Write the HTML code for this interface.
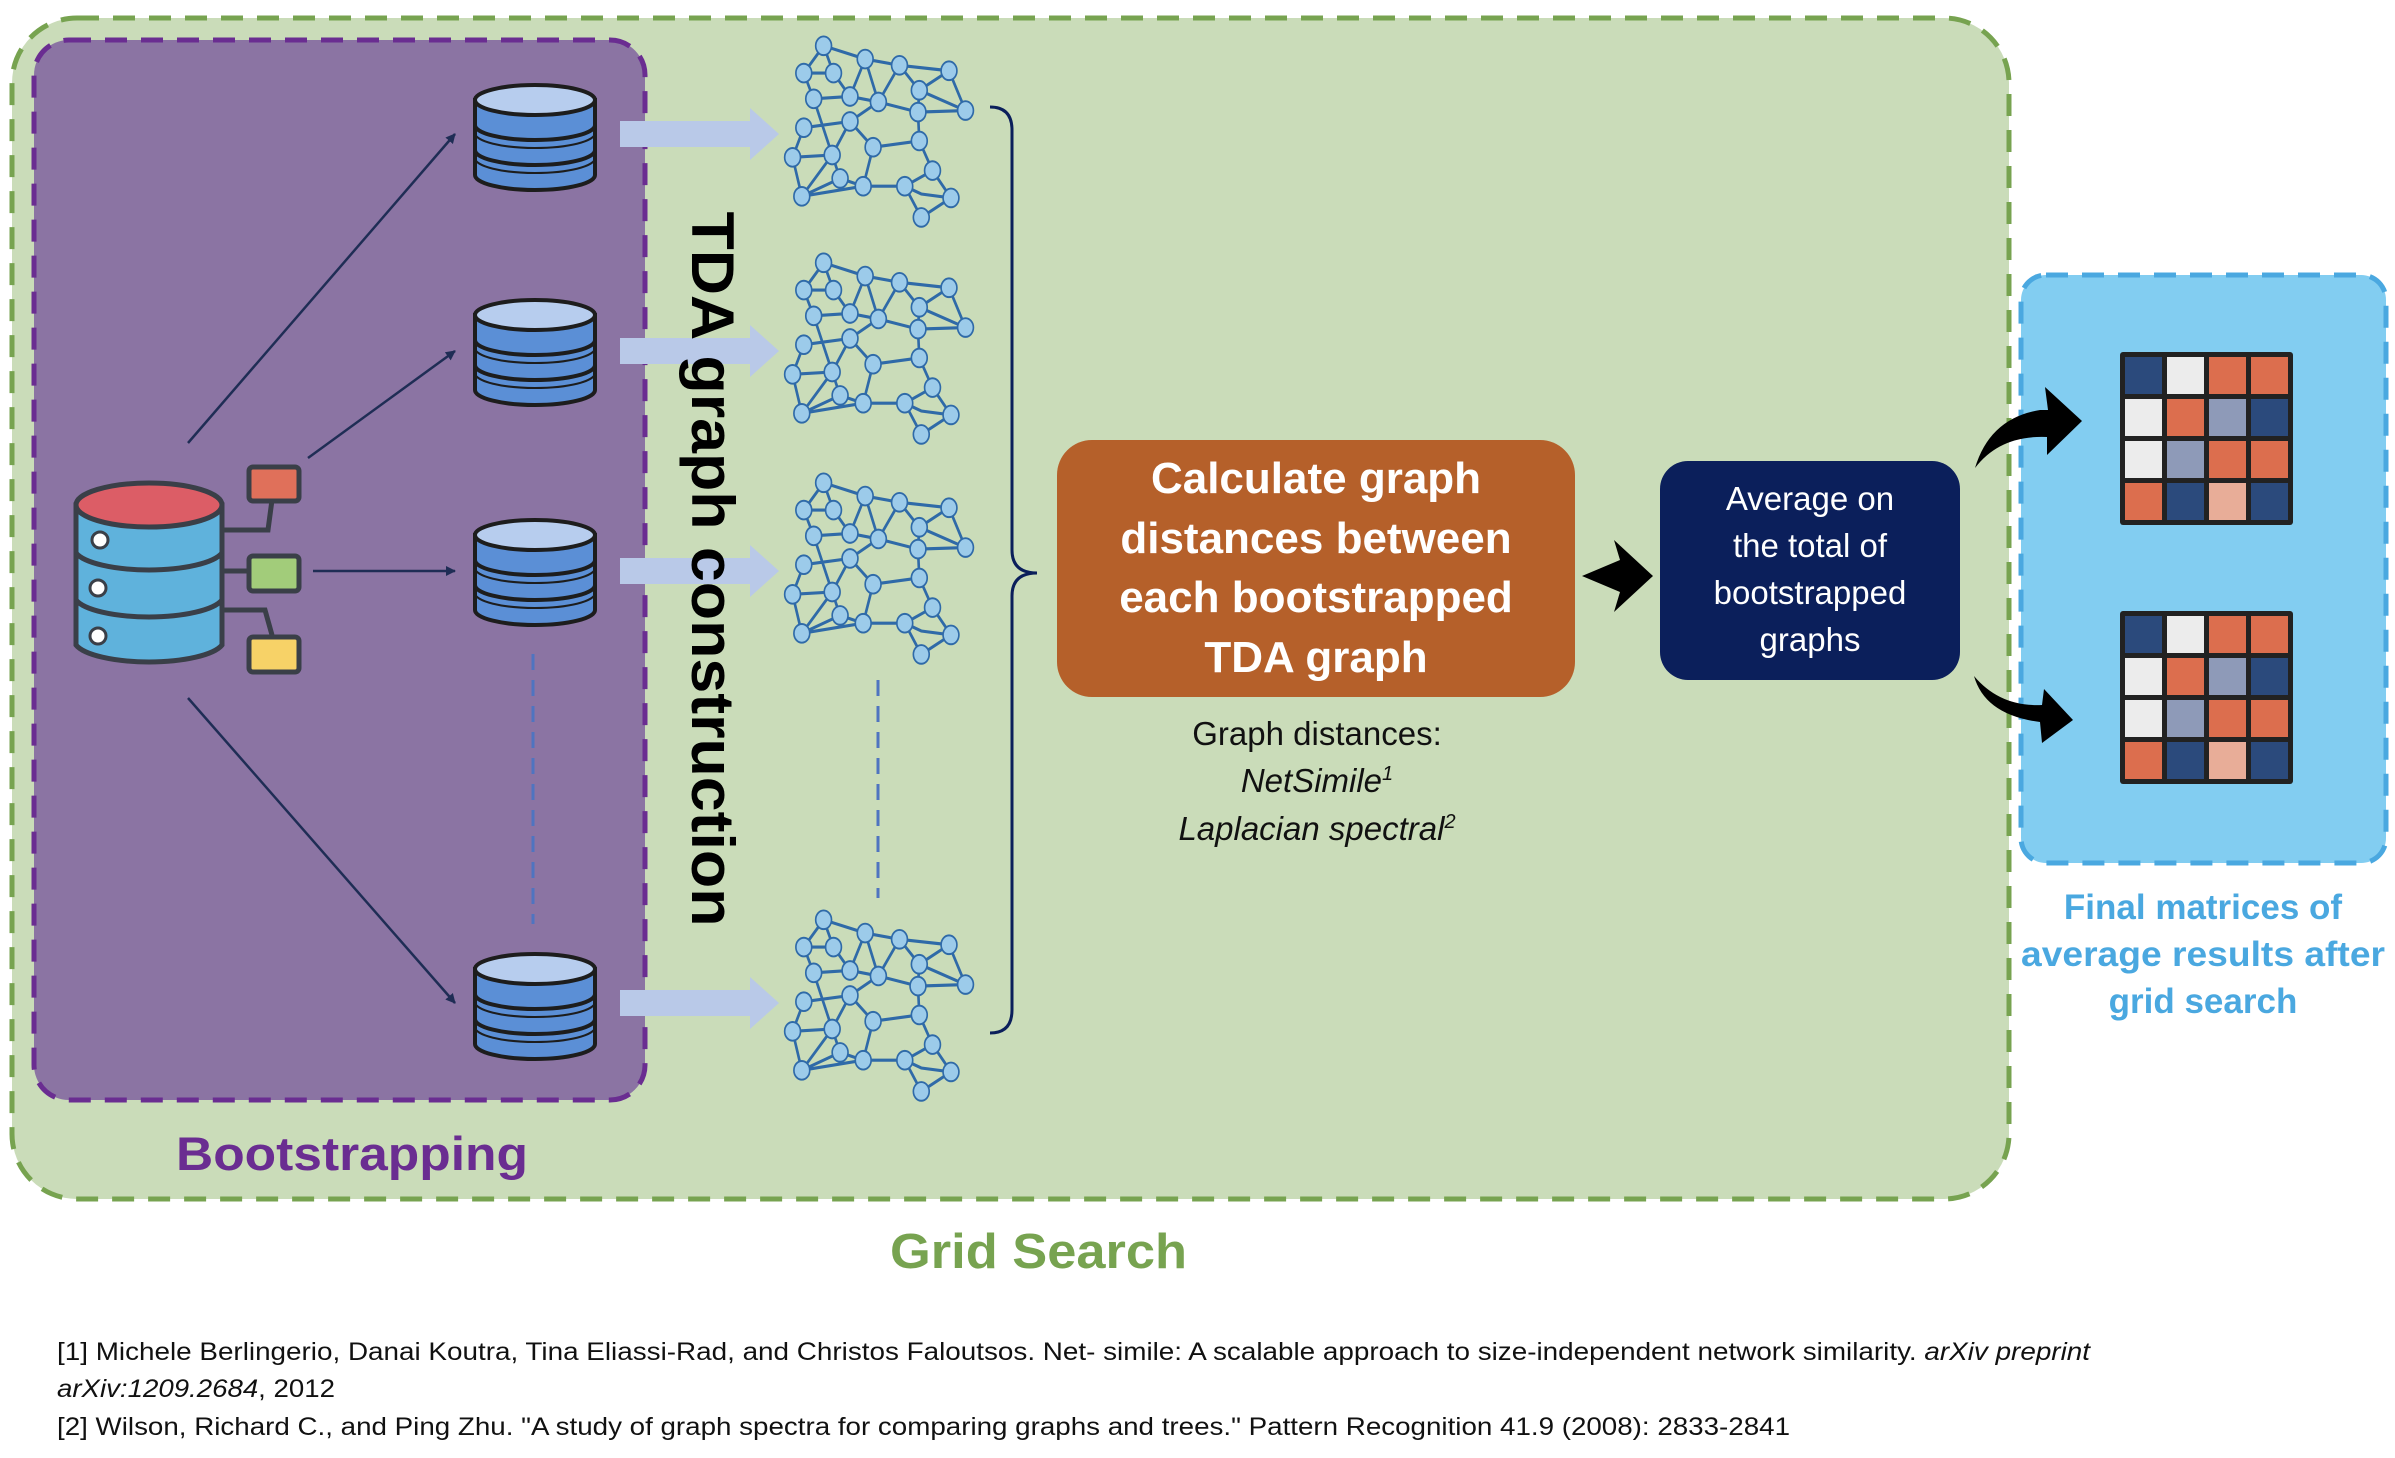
<!DOCTYPE html>
<html><head><meta charset="utf-8"><style>
html,body{margin:0;padding:0;background:#fff;}
svg{display:block;}
text{font-family:"Liberation Sans","DejaVu Sans",sans-serif;}
</style></head><body>
<svg width="2395" height="1458" viewBox="0 0 2395 1458" xmlns="http://www.w3.org/2000/svg">
<defs>
<marker id="ah" markerWidth="10" markerHeight="10" refX="9" refY="5" orient="auto" markerUnits="userSpaceOnUse"><path d="M0,0 L10,5 L0,10 Z" fill="#1f2d55"/></marker>
<g id="net">
 <g stroke="#2f6aa8" stroke-width="4" fill="none">
 <path d="M60,10 L30,45 L75,45 L60,10 L123,27 L175,35 L250,42 L205,67 L175,35 M123,27 L100,75 L75,45 M205,67 L275,93 L250,42 M205,67 L203,95 L275,93 M45,78 L100,75 L143,82 L203,95 L205,132 M30,115 L100,107 L135,140 L205,132 L225,170 L253,205 L208,200 L183,190 L225,170 M30,115 L13,153 L73,150 L100,107 M13,153 L27,203 L73,150 L85,180 L120,190 L135,140 M27,203 L85,180 M27,203 L120,190 L183,190 M253,205 L208,230 L183,190 M73,150 L45,78 L30,45 M143,82 L100,107 M123,27 L143,82 M175,35 L143,82"/>
 </g>
 <g fill="#9ccbea" stroke="#2f6aa8" stroke-width="2.5">
 <circle cx="60" cy="10" r="12"/><circle cx="30" cy="45" r="12"/><circle cx="75" cy="45" r="12"/><circle cx="123" cy="27" r="12"/><circle cx="175" cy="35" r="12"/><circle cx="250" cy="42" r="12"/><circle cx="205" cy="67" r="12"/><circle cx="275" cy="93" r="12"/><circle cx="45" cy="78" r="12"/><circle cx="100" cy="75" r="12"/><circle cx="143" cy="82" r="12"/><circle cx="203" cy="95" r="12"/><circle cx="30" cy="115" r="12"/><circle cx="100" cy="107" r="12"/><circle cx="135" cy="140" r="12"/><circle cx="205" cy="132" r="12"/><circle cx="13" cy="153" r="12"/><circle cx="73" cy="150" r="12"/><circle cx="225" cy="170" r="12"/><circle cx="27" cy="203" r="12"/><circle cx="120" cy="190" r="12"/><circle cx="183" cy="190" r="12"/><circle cx="253" cy="205" r="12"/><circle cx="208" cy="230" r="12"/><circle cx="85" cy="180" r="12"/>
 </g>
</g>
<g id="db">
 <path d="M0,20 L0,95 A60,15 0 0 0 120,95 L120,20 Z" fill="#5b8fd6" stroke="#1d1d1d" stroke-width="4"/>
 <ellipse cx="60" cy="20" rx="60" ry="15" fill="#b7cdee" stroke="#1d1d1d" stroke-width="4"/>
 <path d="M0,45 A60,15 0 0 0 120,45 M0,70 A60,15 0 0 0 120,70" fill="none" stroke="#1d1d1d" stroke-width="4"/>
 <path d="M0,53 A60,15 0 0 0 120,53 M0,78 A60,15 0 0 0 120,78" fill="none" stroke="#1d1d1d" stroke-width="2"/>
</g>
<g id="mat">
 <rect x="0" y="0" width="173" height="173" fill="#222" rx="3"/>
 <g transform="translate(5,5)">
 <rect x="0" y="0" width="37" height="37" fill="#2b4a7c"/><rect x="42" y="0" width="37" height="37" fill="#ececec"/><rect x="84" y="0" width="37" height="37" fill="#dc6e4e"/><rect x="126" y="0" width="37" height="37" fill="#dc6e4e"/>
 <rect x="0" y="42" width="37" height="37" fill="#ececec"/><rect x="42" y="42" width="37" height="37" fill="#dc6e4e"/><rect x="84" y="42" width="37" height="37" fill="#8e9ab8"/><rect x="126" y="42" width="37" height="37" fill="#2b4a7c"/>
 <rect x="0" y="84" width="37" height="37" fill="#ececec"/><rect x="42" y="84" width="37" height="37" fill="#8e9ab8"/><rect x="84" y="84" width="37" height="37" fill="#dc6e4e"/><rect x="126" y="84" width="37" height="37" fill="#dc6e4e"/>
 <rect x="0" y="126" width="37" height="37" fill="#dc6e4e"/><rect x="42" y="126" width="37" height="37" fill="#2b4a7c"/><rect x="84" y="126" width="37" height="37" fill="#e8ad98"/><rect x="126" y="126" width="37" height="37" fill="#2b4a7c"/>
 </g>
</g>
</defs>

<rect x="12" y="18" width="1997" height="1181" rx="65" fill="#cadcb9" stroke="#77a350" stroke-width="5" stroke-dasharray="22,14"/>
<rect x="2021" y="275" width="365" height="588" rx="25" fill="#82cdf1" stroke="#4aa8e0" stroke-width="5" stroke-dasharray="22,14"/>
<rect x="34" y="40" width="611" height="1060" rx="35" fill="#8b74a3" stroke="#6a2d91" stroke-width="5" stroke-dasharray="22,14"/>

<g stroke="#1f2d55" stroke-width="2.5" marker-end="url(#ah)">
<line x1="188" y1="443" x2="455" y2="134"/>
<line x1="308" y1="458" x2="455" y2="351"/>
<line x1="313" y1="571" x2="455" y2="571"/>
<line x1="188" y1="698" x2="455" y2="1003"/>
</g>
<line x1="533" y1="654" x2="533" y2="924" stroke="#4f74c0" stroke-width="3" stroke-dasharray="16,10"/>
<line x1="878" y1="680" x2="878" y2="898" stroke="#4f74c0" stroke-width="3" stroke-dasharray="16,10"/>

<g>
<path d="M76,505 L76,645 A75,22 0 0 0 222,645 L222,505 Z" fill="#5fb2dc" stroke="#3a3f48" stroke-width="5"/>
<path d="M76,553 A75,22 0 0 0 222,553 M76,600 A75,22 0 0 0 222,600" fill="none" stroke="#3a3f48" stroke-width="5"/>
<ellipse cx="149" cy="505" rx="73" ry="22" fill="#dc5d66" stroke="#3a3f48" stroke-width="5"/>
<circle cx="100" cy="540" r="8" fill="#fff" stroke="#3a3f48" stroke-width="3"/>
<circle cx="98" cy="588" r="8" fill="#fff" stroke="#3a3f48" stroke-width="3"/>
<circle cx="98" cy="636" r="8" fill="#fff" stroke="#3a3f48" stroke-width="3"/>
<path d="M222,530 L268,530 L272,500 M222,571 L250,571 M222,610 L265,610 L272,635" fill="none" stroke="#3a3f48" stroke-width="5"/>
<rect x="249" y="467" width="50" height="34" rx="4" fill="#e0705a" stroke="#3a3f48" stroke-width="5"/>
<rect x="249" y="556" width="50" height="35" rx="4" fill="#a2cc7a" stroke="#3a3f48" stroke-width="5"/>
<rect x="249" y="637" width="50" height="35" rx="4" fill="#f7d267" stroke="#3a3f48" stroke-width="5"/>
</g>

<use href="#db" x="475" y="80"/>
<use href="#db" x="475" y="295"/>
<use href="#db" x="475" y="515"/>
<use href="#db" x="475" y="949"/>

<g fill="#b9c9e8">
<path d="M620,121 L750,121 L750,108 L779,134 L750,160 L750,147 L620,147 Z"/>
<path d="M620,338 L750,338 L750,325 L779,351 L750,377 L750,364 L620,364 Z"/>
<path d="M620,558 L750,558 L750,545 L779,571 L750,597 L750,584 L620,584 Z"/>
<path d="M620,990 L750,990 L750,977 L779,1003 L750,1029 L750,1016 L620,1016 Z"/>
</g>

<g transform="translate(784,38) scale(0.66,0.78)"><use href="#net"/></g>
<g transform="translate(784,255) scale(0.66,0.78)"><use href="#net"/></g>
<g transform="translate(784,475) scale(0.66,0.78)"><use href="#net"/></g>
<g transform="translate(784,912) scale(0.66,0.78)"><use href="#net"/></g>

<text x="0" y="0" transform="translate(708,569) rotate(90)" text-anchor="middle" font-size="60" font-weight="bold" fill="#000" dominant-baseline="middle" textLength="715" lengthAdjust="spacingAndGlyphs">TDA graph construction</text>

<path d="M990,107 Q1012,107 1012,130 L1012,550 Q1012,573 1037,573 Q1012,573 1012,596 L1012,1010 Q1012,1033 990,1033" fill="none" stroke="#0b1f5b" stroke-width="3"/>

<rect x="1057" y="440" width="518" height="257" rx="35" fill="#b5602a"/>
<g fill="#fff" font-weight="bold" font-size="44" text-anchor="middle">
<text x="1316" y="493">Calculate graph</text>
<text x="1316" y="553">distances between</text>
<text x="1316" y="612">each bootstrapped</text>
<text x="1316" y="672">TDA graph</text>
</g>
<g font-size="33" text-anchor="middle" fill="#111">
<text x="1317" y="745">Graph distances:</text>
<text x="1317" y="792" font-style="italic">NetSimile<tspan font-size="20" dy="-12">1</tspan></text>
<text x="1317" y="840" font-style="italic">Laplacian spectral<tspan font-size="20" dy="-12">2</tspan></text>
</g>

<path d="M1582,576 L1620,560 L1614,540 L1653,576 L1614,612 L1620,592 Z" fill="#000"/>

<rect x="1660" y="461" width="300" height="219" rx="28" fill="#0b1f5b"/>
<g fill="#fff" font-size="33" text-anchor="middle">
<text x="1810" y="510">Average on</text>
<text x="1810" y="557">the total of</text>
<text x="1810" y="604">bootstrapped</text>
<text x="1810" y="651">graphs</text>
</g>

<path d="M1975,468 Q1990,418 2040,410 L2048,410 L2045,387 L2082,421 L2047,455 L2047,437 Q2000,435 1975,468 Z" fill="#000"/>
<path d="M1974,676 Q1985,715 2040,722 L2042,743 L2073,720 L2044,689 L2042,705 Q2000,707 1974,676 Z" fill="#000"/>

<use href="#mat" x="2120" y="352"/>
<use href="#mat" x="2120" y="611"/>

<text x="176" y="1170" font-size="47" font-weight="bold" fill="#6a2d91" textLength="352" lengthAdjust="spacingAndGlyphs">Bootstrapping</text>
<text x="890" y="1268" font-size="49" font-weight="bold" fill="#77a350" textLength="297" lengthAdjust="spacingAndGlyphs">Grid Search</text>
<g fill="#4aa8e0" font-weight="bold" font-size="35" text-anchor="middle">
<text x="2203" y="919">Final matrices of</text>
<text x="2203" y="966" textLength="364" lengthAdjust="spacingAndGlyphs">average results after</text>
<text x="2203" y="1013">grid search</text>
</g>

<g font-size="25" fill="#111">
<text x="57" y="1360" textLength="2033" lengthAdjust="spacingAndGlyphs">[1] Michele Berlingerio, Danai Koutra, Tina Eliassi-Rad, and Christos Faloutsos. Net- simile: A scalable approach to size-independent network similarity. <tspan font-style="italic">arXiv preprint</tspan></text>
<text x="57" y="1397" textLength="278" lengthAdjust="spacingAndGlyphs"><tspan font-style="italic">arXiv:1209.2684</tspan>, 2012</text>
<text x="57" y="1435" textLength="1733" lengthAdjust="spacingAndGlyphs">[2] Wilson, Richard C., and Ping Zhu. "A study of graph spectra for comparing graphs and trees." Pattern Recognition 41.9 (2008): 2833-2841</text>
</g>
</svg>
</body></html>
